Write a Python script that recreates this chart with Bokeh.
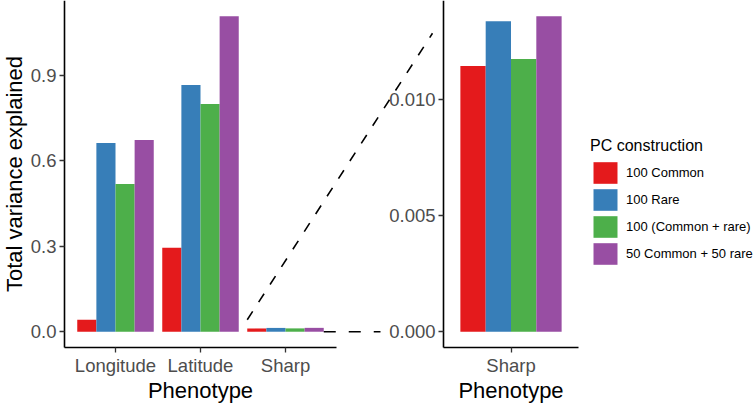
import math
from bokeh.plotting import figure
from bokeh.models import (Range1d, FixedTicker, PrintfTickFormatter, LinearAxis,
                          Legend, LegendItem, ColumnDataSource)
from bokeh.core.properties import value
from bokeh.embed import file_html
from bokeh.resources import INLINE

# ---------------- data ----------------
phenotypes = ["Longitude", "Latitude", "Sharp"]
zoom_phenotype = "Sharp"
series_names = ["100 Common", "100 Rare", "100 (Common + rare)", "50 Common + 50 rare"]
series_colors = ["#E41A1C", "#377EB8", "#4DAF4A", "#984EA3"]
common_100 = [0.042, 0.294, 0.01142]
rare_100 = [0.662, 0.865, 0.01335]
mixed_100 = [0.518, 0.798, 0.01172]
half_50 = [0.672, 1.106, 0.01356]
left_ticks = [0.0, 0.3, 0.6, 0.9]
right_ticks = [0.0, 0.005, 0.010]
x_title = "Phenotype"
y_title = "Total variance explained"
legend_title = "PC construction"
# heights where the dashed zoom connector meets each panel
link_left_y = 0.042
link_right_y = 0.01283

series_values = [common_100, rare_100, mixed_100, half_50]

# ---------------- layout constants (pixels) ----------------
W, H = 756, 404
MAIN_L, MAIN_R = 64, 336      # main panel horizontal extent
ZOOM_L, ZOOM_R = 443, 578     # zoom panel horizontal extent
BASE = 347                    # bottom of both panels
XTITLE_PY = 390               # x-axis titles (centre)
YTITLE_PX = 14                # y-axis title (centre)
LEG_X, LEG_BOTTOM = 590, 267
PAD = 0.1                     # discrete expansion around categories
GROUP = 0.9
BAR_W = GROUP / 4
offsets = [(-GROUP / 2 + BAR_W / 2) + i * BAR_W for i in range(4)]
FONT = "Liberation Sans"
TICK_FS = "18.5px"
TITLE_FS = "22px"

n = len(phenotypes)
zi = phenotypes.index(zoom_phenotype)
centers = [i + 0.5 for i in range(n)]

# main scale (frame = whole canvas)
kx = (MAIN_R - MAIN_L) / (n + 2 * PAD)
lx0 = -PAD - MAIN_L / kx
lx1 = lx0 + W / kx
ymax_left = max(max(s) for s in series_values)
ly_lo, ly_hi = -0.05 * ymax_left, 1.05 * ymax_left
ky = BASE / (ly_hi - ly_lo)
ly0 = ly_lo - (H - BASE) / ky
ly1 = ly_hi
# zoom scale
kzx = (ZOOM_R - ZOOM_L) / (1 + 2 * PAD)
zx0 = -PAD - ZOOM_L / kzx
zx1 = zx0 + W / kzx
ymax_right = max(s[zi] for s in series_values)
zy_lo, zy_hi = -0.05 * ymax_right, 1.05 * ymax_right
kzy = BASE / (zy_hi - zy_lo)
zy0 = zy_lo - (H - BASE) / kzy
zy1 = zy_hi


def px_main_x(px):
    return lx0 + px / kx


def py_main_y(py):
    return ly1 - py / ky


p = figure(width=W, height=H, output_backend="svg", toolbar_location=None,
           x_range=Range1d(lx0, lx1), y_range=Range1d(ly0, ly1),
           x_axis_location=None, y_axis_location=None,
           min_border=0)
p.extra_x_ranges = {"zoom": Range1d(zx0, zx1)}
p.extra_y_ranges = {"zoom": Range1d(zy0, zy1)}
p.grid.visible = False
p.outline_line_color = None

# bars
zoom_renderers = []
for vals, col, off in zip(series_values, series_colors, offsets):
    src = ColumnDataSource(dict(x=[c + off for c in centers], v=vals))
    p.vbar(x="x", top="v", width=BAR_W, source=src, fill_color=col, line_color=None)
    zsrc = ColumnDataSource(dict(x=[0.5 + off], v=[vals[zi]]))
    r = p.vbar(x="x", top="v", width=BAR_W, source=zsrc, fill_color=col,
               line_color=None, x_range_name="zoom", y_range_name="zoom")
    zoom_renderers.append(r)

# axes, each fixed at its panel edge
main_y = LinearAxis(fixed_location=-PAD, bounds=(ly_lo, ly_hi),
                    ticker=FixedTicker(ticks=left_ticks, minor_ticks=[]),
                    formatter=PrintfTickFormatter(format="%.1f"))
main_x = LinearAxis(fixed_location=ly_lo, bounds=(-PAD, n + PAD),
                    ticker=FixedTicker(ticks=centers, minor_ticks=[]),
                    major_label_overrides={c: name for c, name in zip(centers, phenotypes)})
zoom_y = LinearAxis(x_range_name="zoom", y_range_name="zoom",
                    fixed_location=-PAD, bounds=(zy_lo, zy_hi),
                    ticker=FixedTicker(ticks=right_ticks, minor_ticks=[]),
                    formatter=PrintfTickFormatter(format="%.3f"))
zoom_x = LinearAxis(x_range_name="zoom", y_range_name="zoom",
                    fixed_location=zy_lo, bounds=(-PAD, 1 + PAD),
                    ticker=FixedTicker(ticks=[0.5], minor_ticks=[]),
                    major_label_overrides={0.5: zoom_phenotype})
for ax, side in ((main_y, "left"), (zoom_y, "left"), (main_x, "below"), (zoom_x, "below")):
    ax.axis_line_color = "black"
    ax.axis_line_width = 1.6
    ax.major_tick_line_color = "#333333"
    ax.major_tick_line_width = 1.3
    ax.major_tick_in = 0
    ax.major_tick_out = 5
    ax.minor_tick_line_color = None
    ax.major_label_text_font = FONT
    ax.major_label_text_font_size = TICK_FS
    ax.major_label_text_color = "#4D4D4D"
    ax.major_label_standoff = 3 if side == "left" else 2
    p.add_layout(ax, side)

# axis titles
title_y = py_main_y(XTITLE_PY)
p.text(x=[(n) / 2], y=[title_y], text=[x_title], text_font=value(FONT),
       text_font_size=TITLE_FS, text_color="black", text_align="center",
       text_baseline="middle")
p.text(x=[0.5], y=[zy1 - XTITLE_PY / kzy], text=[x_title], text_font=value(FONT),
       text_font_size=TITLE_FS, text_color="black", text_align="center",
       text_baseline="middle", x_range_name="zoom", y_range_name="zoom")
p.text(x=[px_main_x(YTITLE_PX)], y=[(ly_lo + ly_hi) / 2], text=[y_title],
       text_font=value(FONT), text_font_size=TITLE_FS, text_color="black",
       text_align="center", text_baseline="middle", angle=math.pi / 2)


# ---------------- dashed zoom connector ----------------
def zoom_to_main_x(x):
    return px_main_x((x - zx0) * kzx)


def zoom_to_main_y(y):
    return py_main_y((zy1 - y) * kzy)


diag_end_zx = -PAD - 11 / kzx    # just left of zoom axis
horiz_end_zx = -PAD - 63 / kzx   # just before "0.000"
p.line(x=[centers[zi] - GROUP / 2, zoom_to_main_x(diag_end_zx)],
       y=[link_left_y, zoom_to_main_y(link_right_y)],
       line_color="black", line_width=1.6, line_dash="10 11")
p.line(x=[centers[zi] + GROUP / 2, zoom_to_main_x(horiz_end_zx)],
       y=[0, zoom_to_main_y(0)],
       line_color="black", line_width=1.6, line_dash="12 13")

# ---------------- legend ----------------
items = [LegendItem(label=name, renderers=[r]) for name, r in zip(series_names, zoom_renderers)]
leg = Legend(items=items, location=(LEG_X, H - LEG_BOTTOM),
             title=legend_title, title_text_font=FONT,
             title_text_font_size="16px", title_text_font_style="normal",
             title_text_color="black", title_standoff=4,
             label_text_font=FONT, label_text_font_size="13px",
             label_text_color="black", label_standoff=6,
             glyph_width=30, glyph_height=27, spacing=0,
             padding=0, margin=0, border_line_color=None,
             background_fill_alpha=0)
p.add_layout(leg)

open("out.html", "w").write(file_html(p, INLINE))
